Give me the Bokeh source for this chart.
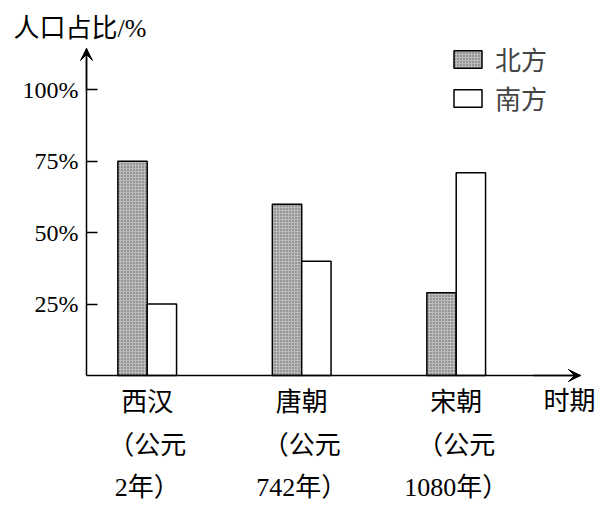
from bokeh.plotting import figure
from bokeh.models import (Range1d, LinearAxis, FixedTicker, PrintfTickFormatter,
                          Arrow, VeeHead, Label, Legend, LegendItem, ColumnDataSource)
from bokeh.transform import dodge
from bokeh.embed import file_html
from bokeh.resources import INLINE

# ---- data ----
periods = ["西汉", "唐朝", "宋朝"]
period_notes = ["（公元", "（公元", "（公元"]
period_years = ["2年）", "742年）", "1080年）"]
north = [75, 60, 29]
south = [25, 40, 71]
y_ticks = [25, 50, 75, 100]
series_names = ["北方", "南方"]
y_title = "人口占比/%"
x_title = "时期"

FONT = "Liberation Serif, Noto Sans CJK SC"
CJK_SIZE = "26px"

W, H = 616, 505
# pixel geometry of the chart area
ORIGIN_X, ORIGIN_Y = 146.7, 375.0     # pixel of category 0 / value 0
PX_PER_CAT, PX_PER_VAL = 154.5, 2.856
AX_LEFT_PX, AX_RIGHT_PX, AX_TOP_PX = 86.0, 580.0, 48.0

def dx(px):
    return (px - ORIGIN_X) / PX_PER_CAT

def dy(py):
    return (ORIGIN_Y - py) / PX_PER_VAL

src = ColumnDataSource(dict(x=list(range(len(periods))), north=north, south=south))

p = figure(width=W, height=H, output_backend="svg", toolbar_location=None,
           x_range=Range1d(dx(0), dx(W)), y_range=Range1d(dy(H), dy(0)),
           x_axis_location=None, y_axis_location=None,
           min_border=0, min_border_left=0, min_border_right=0,
           min_border_top=0, min_border_bottom=0)
p.outline_line_color = None
p.grid.grid_line_color = None
p.background_fill_color = "white"

x_left, x_right, y_top = dx(AX_LEFT_PX), dx(AX_RIGHT_PX), dy(AX_TOP_PX)

# y axis (placed inside the frame)
yaxis = LinearAxis(ticker=FixedTicker(ticks=y_ticks), formatter=PrintfTickFormatter(format="%d%%"),
                   fixed_location=x_left, bounds=(0, y_top))
yaxis.major_tick_in = 11
yaxis.major_tick_out = 0
yaxis.minor_tick_line_color = None
yaxis.axis_line_width = 1.5
yaxis.major_tick_line_width = 1.5
yaxis.axis_line_color = "black"
yaxis.major_tick_line_color = "black"
yaxis.major_label_text_font = "Liberation Serif"
yaxis.major_label_text_font_size = "24px"
yaxis.major_label_text_color = "black"
yaxis.major_label_standoff = 8
p.add_layout(yaxis, "left")

# x axes: three label lines
xt = FixedTicker(ticks=list(range(len(periods))))
line_locs = [0, dy(418), dy(460)]
for i, labels in enumerate([periods, period_notes, period_years]):
    ax = LinearAxis(ticker=xt, major_label_overrides={k: v for k, v in enumerate(labels)},
                    fixed_location=line_locs[i])
    ax.major_tick_line_color = None
    ax.major_tick_in = 0
    ax.major_tick_out = 0
    ax.minor_tick_line_color = None
    ax.major_label_text_font = FONT
    ax.major_label_text_font_size = CJK_SIZE
    ax.major_label_text_color = "black"
    ax.major_label_standoff = 12
    if i == 0:
        ax.axis_line_color = "black"
        ax.axis_line_width = 1.5
        ax.bounds = (x_left, x_right)
    else:
        ax.axis_line_color = None
    p.add_layout(ax, "below")

# axis arrows
p.add_layout(Arrow(end=VeeHead(size=12, fill_color="black", line_color="black", line_width=1),
                   x_start=x_left, y_start=100, x_end=x_left, y_end=y_top,
                   line_color="black", line_width=1.5))
p.add_layout(Arrow(end=VeeHead(size=12, fill_color="black", line_color="black", line_width=1),
                   x_start=2.5, y_start=0, x_end=x_right, y_end=0,
                   line_color="black", line_width=1.5))

# bars
north_r = p.vbar(x=dodge('x', -0.095, range=p.x_range), top='north', width=0.19, source=src,
                 fill_color="#bcbcbc", line_color="black", line_width=1.5,
                 hatch_pattern="dot", hatch_color="#5a5a5a", hatch_scale=3, hatch_weight=1)
south_r = p.vbar(x=dodge('x', 0.095, range=p.x_range), top='south', width=0.19, source=src,
                 fill_color="white", line_color="black", line_width=1.5)

legend = Legend(items=[LegendItem(label=series_names[0], renderers=[north_r]),
                       LegendItem(label=series_names[1], renderers=[south_r])],
                location=(450, H - 116), orientation="vertical",
                glyph_width=35, glyph_height=22, label_text_font=FONT,
                label_text_font_size=CJK_SIZE, label_standoff=10, spacing=2,
                padding=0, margin=0, border_line_color=None, background_fill_alpha=0)
p.add_layout(legend)

p.add_layout(Label(x=dx(13), y=dy(28), text=y_title, text_font=FONT, text_font_size=CJK_SIZE,
                   text_baseline="middle", text_align="left", text_color="black"))
p.add_layout(Label(x=dx(543), y=dy(401), text=x_title, text_font=FONT, text_font_size=CJK_SIZE,
                   text_baseline="middle", text_align="left", text_color="black"))

open("out.html", "w").write(file_html(p, INLINE, title="chart"))
